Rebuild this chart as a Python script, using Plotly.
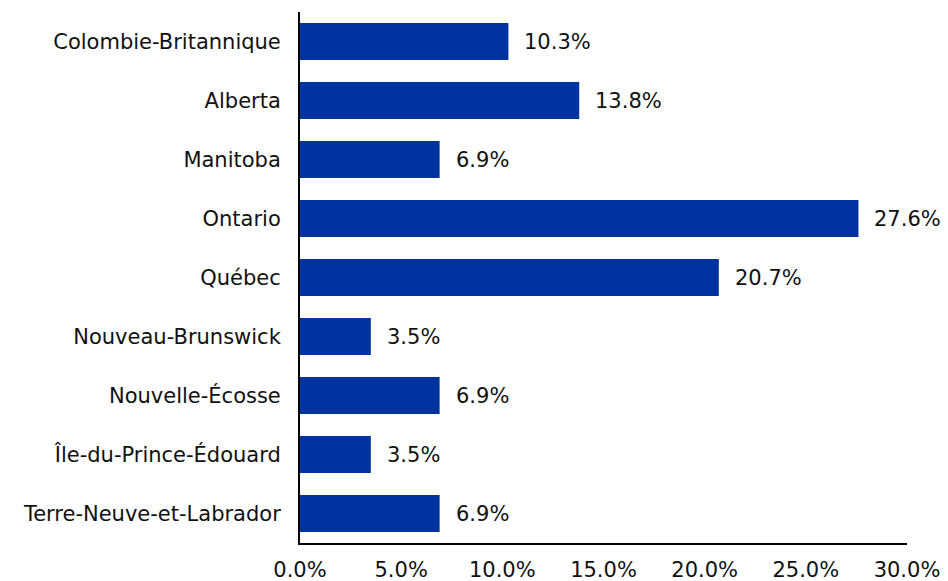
import plotly.graph_objects as go

provinces = [
    "Colombie-Britannique",
    "Alberta",
    "Manitoba",
    "Ontario",
    "Québec",
    "Nouveau-Brunswick",
    "Nouvelle-Écosse",
    "Île-du-Prince-Édouard",
    "Terre-Neuve-et-Labrador",
]
shares = [10.3, 13.8, 6.9, 27.6, 20.7, 3.5, 6.9, 3.5, 6.9]
tick_values = [0, 5, 10, 15, 20, 25, 30]
tick_labels = ["0.0%", "5.0%", "10.0%", "15.0%", "20.0%", "25.0%", "30.0%"]

FONT = "DejaVu Sans"
FONT_SIZE = 21
TEXT_COLOR = "#111111"
BAR_COLOR = "#0033A0"

fig = go.Figure(
    go.Bar(
        x=shares,
        y=provinces,
        orientation="h",
        marker=dict(color=BAR_COLOR, line=dict(width=0)),
        hoverinfo="skip",
    )
)

# value labels just past the end of each bar
for prov, val in zip(provinces, shares):
    fig.add_annotation(
        x=val,
        y=prov,
        text=f"{val:.1f}%",
        showarrow=False,
        xanchor="left",
        xshift=14,
        font=dict(family=FONT, size=FONT_SIZE, color=TEXT_COLOR),
    )

fig.update_layout(
    width=948,
    height=581,
    margin=dict(l=300, r=41, t=12, b=38),
    paper_bgcolor="white",
    plot_bgcolor="white",
    bargap=0.373,
    showlegend=False,
    font=dict(family=FONT, size=FONT_SIZE, color=TEXT_COLOR),
)
fig.update_xaxes(
    range=[0, 30],
    tickvals=tick_values,
    ticktext=tick_labels,
    showgrid=False,
    zeroline=False,
    showline=True,
    linecolor="black",
    linewidth=2,
    ticks="",
    ticklabelstandoff=7,
    automargin=False,
    tickfont=dict(family=FONT, size=FONT_SIZE, color=TEXT_COLOR),
)
fig.update_yaxes(
    categoryorder="array",
    categoryarray=provinces,
    autorange="reversed",
    showgrid=False,
    zeroline=False,
    showline=True,
    linecolor="black",
    linewidth=2,
    ticks="",
    ticklabelstandoff=13,
    automargin=False,
    tickfont=dict(family=FONT, size=FONT_SIZE, color=TEXT_COLOR),
)

fig.write_html("out.html")
